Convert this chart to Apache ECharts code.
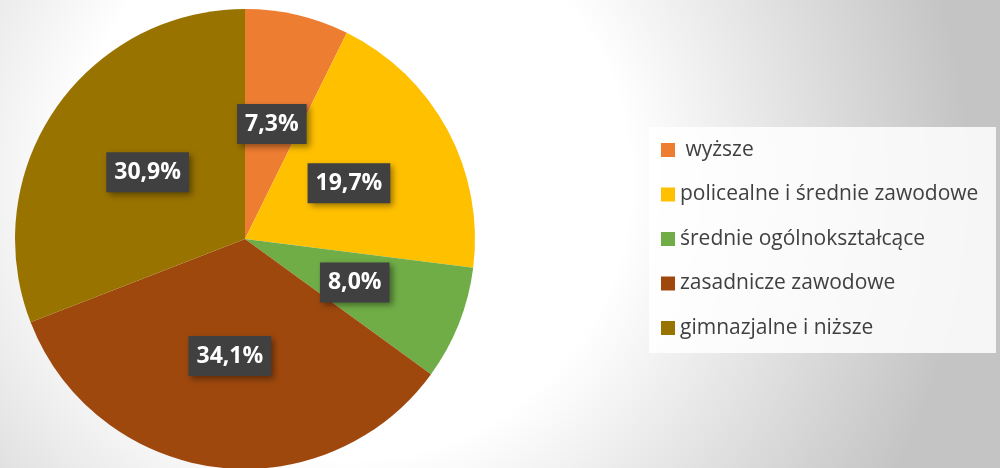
<!DOCTYPE html>
<html>
<head>
<meta charset="utf-8">
<script src="https://cdn.jsdelivr.net/npm/echarts@6/dist/echarts.min.js"></script>
<style>html,body{margin:0;padding:0;}#c{width:1000px;height:468px;}</style>
</head>
<body>
<div id="c"></div>
<script>
const categories = [' wyższe', 'policealne i średnie zawodowe', 'średnie ogólnokształcące', 'zasadnicze zawodowe', 'gimnazjalne i niższe'];
const values = [7.3, 19.7, 8.0, 34.1, 30.9];
const colors = ['#ED7D31', '#FFC000', '#70AD47', '#9E480E', '#997300'];

const chart = echarts.init(document.getElementById('c'), null, {renderer: 'canvas'});
const bg = new echarts.graphic.RadialGradient(350, 180, 620, [
  {offset: 0, color: '#ffffff'},
  {offset: 0.45, color: '#ffffff'},
  {offset: 1, color: '#c4c4c4'}
], true);

chart.setOption({
  backgroundColor: bg,
  animation: false,
  color: colors,
  graphic: [{
    type: 'rect', z: 1,
    shape: {x: 649, y: 127, width: 347, height: 226},
    style: {fill: 'rgba(255,255,255,0.85)'}
  }],
  legend: {
    orient: 'vertical',
    left: 661, top: 139,
    padding: 0,
    itemWidth: 14, itemHeight: 14,
    itemGap: 22.5,
    icon: 'rect',
    selectedMode: false,
    textStyle: {fontFamily: 'Open Sans', fontSize: 21, lineHeight: 22, color: '#404040'},
    data: categories
  },
  series: [{
    type: 'pie',
    center: [245, 239],
    radius: 230,
    startAngle: 90,
    clockwise: true,
    avoidLabelOverlap: false,
    itemStyle: {borderWidth: 0},
    emphasis: {disabled: true},
    label: {
      show: true,
      position: 'inside',
      formatter: p => p.value.toFixed(1).replace('.', ',') + '%',
      color: '#ffffff',
      fontFamily: 'Open Sans',
      fontWeight: 'bold',
      fontSize: 23,
      lineHeight: 24,
      backgroundColor: '#404040',
      padding: [8, 8],
      shadowBlur: 6,
      shadowOffsetX: 3,
      shadowOffsetY: 3,
      shadowColor: 'rgba(0,0,0,0.4)'
    },
    labelLine: {show: false},
    data: categories.map((c, i) => ({name: c, value: values[i]}))
  }]
});
</script>
</body>
</html>
